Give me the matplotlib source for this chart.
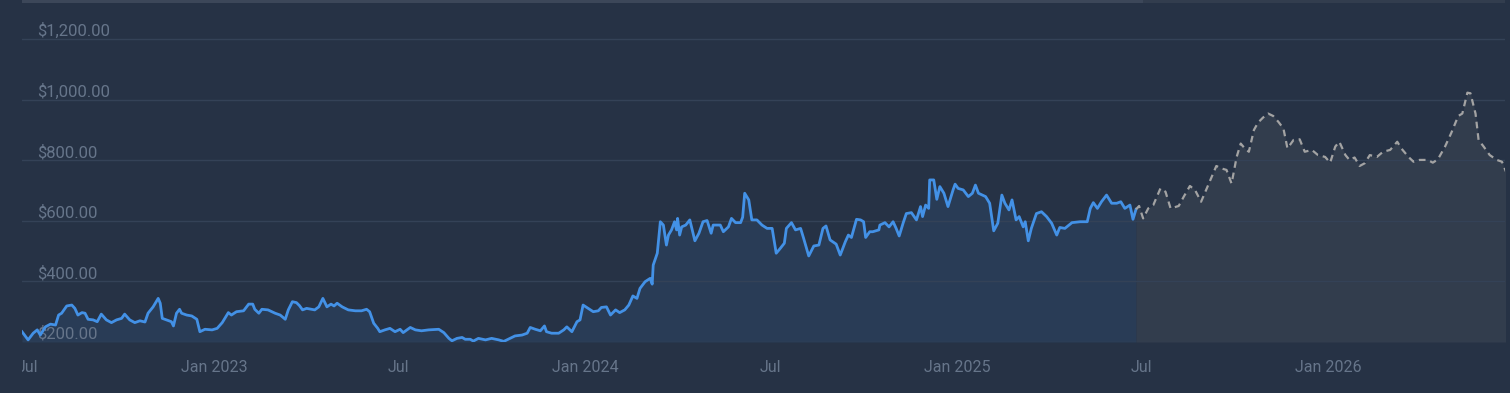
import numpy as np
import pandas as pd
import matplotlib
matplotlib.use("Agg")
import matplotlib.pyplot as plt
from matplotlib.patches import Rectangle
from matplotlib.transforms import Bbox, TransformedBbox

plt.rcParams["font.family"] = ["Roboto", "DejaVu Sans"]

start = pd.Timestamp("2022-07-01")

# price history (days after 2022-07-01)
hist_days = [-5, 1, 6, 10, 13, 18, 23, 28, 31, 34, 39, 44, 47, 50, 54, 57, 60, 65, 69, 73,
             78, 83, 88, 93, 96, 101, 106, 111, 116, 119, 124, 129, 131, 133, 137, 142, 144, 147, 150, 152,
             157, 162, 167, 170, 175, 182, 187, 192, 198, 201, 206, 213, 218, 222, 224, 228, 231, 237, 244, 249,
             254, 257, 261, 265, 268, 271, 275, 283, 287, 291, 295, 299, 302, 305, 310, 316, 323, 329, 334, 337,
             341, 345, 347, 352, 357, 362, 367, 370, 377, 382, 388, 395, 405, 410, 415, 418, 423, 428, 431, 436,
             439, 444, 451, 457, 464, 469, 475, 480, 487, 492, 495, 500, 505, 509, 511, 516, 523, 528, 531, 536,
             541, 544, 547, 552, 557, 562, 565, 570, 574, 579, 583, 588, 592, 596, 600, 603, 608, 613, 615, 616,
             620, 623, 626, 629, 631, 634, 637, 639, 640, 642, 644, 648, 652, 657, 661, 665, 669, 673, 675, 682,
             685, 690, 693, 697, 702, 704, 706, 710, 713, 718, 723, 728, 733, 737, 741, 745, 747, 752, 756, 761,
             764, 769, 774, 779, 783, 786, 790, 796, 800, 805, 808, 811, 816, 820, 823, 825, 829, 832, 838, 839,
             844, 848, 852, 855, 858, 862, 865, 870, 875, 879, 881, 884, 887, 888, 892, 895, 898, 902, 906, 911,
             913, 916, 921, 926, 930, 933, 936, 943, 947, 951, 955, 959, 962, 966, 969, 973, 976, 980, 982, 985,
             988, 993, 998, 1003, 1008, 1013, 1016, 1021, 1028, 1036, 1043, 1046, 1049, 1053, 1057, 1062, 1067, 1072, 1076, 1080,
             1085, 1088, 1091]
hist_price = [234, 207, 229, 240, 223, 250, 259, 256, 289, 295, 319, 322, 311, 289, 297, 295, 275, 273, 267, 292,
              273, 264, 273, 278, 292, 273, 264, 270, 266, 295, 316, 344, 328, 278, 273, 267, 253, 295, 308, 295,
              289, 286, 275, 234, 242, 240, 245, 264, 297, 289, 300, 303, 325, 325, 308, 295, 308, 306, 295, 289,
              275, 306, 333, 330, 320, 306, 311, 306, 316, 344, 316, 325, 319, 328, 316, 306, 303, 303, 308, 300,
              262, 245, 234, 240, 245, 234, 242, 231, 248, 240, 237, 240, 242, 231, 212, 204, 212, 215, 209, 209,
              203, 212, 207, 212, 207, 202, 212, 220, 223, 229, 248, 242, 237, 253, 234, 229, 229, 240, 250, 234,
              267, 273, 322, 311, 300, 303, 314, 316, 289, 306, 297, 306, 322, 352, 344, 377, 399, 410, 391, 454,
              493, 597, 586, 520, 553, 570, 597, 570, 608, 553, 580, 586, 603, 534, 559, 597, 601, 559, 586, 586,
              564, 580, 608, 594, 594, 612, 691, 669, 603, 603, 586, 575, 575, 493, 509, 526, 575, 594, 570, 575,
              542, 484, 517, 520, 575, 583, 537, 523, 487, 531, 553, 545, 605, 603, 597, 545, 564, 564, 570, 586,
              594, 580, 597, 575, 550, 594, 624, 627, 603, 647, 614, 652, 641, 735, 735, 671, 713, 691, 647, 702,
              721, 707, 702, 680, 691, 718, 691, 680, 658, 567, 592, 685, 658, 636, 669, 603, 614, 580, 597, 534,
              575, 624, 630, 614, 592, 553, 578, 575, 594, 597, 597, 641, 660, 641, 663, 685, 658, 658, 663, 641,
              652, 605, 638]

# forecast
fc_days = [1091, 1094, 1098, 1103, 1108, 1115, 1120, 1125, 1133, 1138, 1144, 1149, 1155, 1162, 1170, 1175,
           1180, 1185, 1190, 1194, 1198, 1202, 1207, 1211, 1216, 1221, 1226, 1231, 1236, 1240, 1246, 1252,
           1257, 1264, 1270, 1277, 1282, 1287, 1291, 1297, 1301, 1306, 1311, 1316, 1321, 1328, 1334, 1341,
           1348, 1352, 1359, 1364, 1370, 1378, 1383, 1388, 1395, 1401, 1408, 1412, 1417, 1420, 1425, 1428,
           1433, 1439, 1446, 1451, 1455]
fc_price = [638, 649, 608, 641, 652, 707, 696, 641, 649, 680, 715, 702, 663, 718, 781, 773,
            768, 723, 811, 855, 839, 828, 900, 924, 941, 954, 946, 927, 905, 839, 867, 869,
            828, 834, 817, 811, 792, 845, 861, 817, 801, 809, 781, 790, 817, 811, 828, 834,
            861, 839, 811, 795, 801, 801, 792, 803, 845, 889, 946, 954, 1023, 1021, 954, 867,
            845, 817, 801, 795, 762]

y_ticks = [200, 400, 600, 800, 1000, 1200]
y_labels = ["$200.00", "$400.00", "$600.00", "$800.00", "$1,000.00", "$1,200.00"]
x_ticks = ["2022-07-01", "2023-01-01", "2023-07-01", "2024-01-01",
           "2024-07-01", "2025-01-01", "2025-07-01", "2026-01-01"]
x_labels = ["Jul", "Jan 2023", "Jul", "Jan 2024", "Jul", "Jan 2025", "Jul", "Jan 2026"]

hist_x = start + pd.to_timedelta(hist_days, unit="D")
fc_x = start + pd.to_timedelta(fc_days, unit="D")

bg = "#263245"
txt = "#66758a"

fig = plt.figure(figsize=(15.1, 3.93), dpi=100, facecolor=bg)
ax = fig.add_axes([22 / 1510, 51 / 393, 1483 / 1510, 339 / 393])
ax.set_facecolor(bg)

ax.fill_between(hist_x, hist_price, 200, color="#293c56", lw=0, zorder=0.2)
ax.fill_between(fc_x, fc_price, 200, color="#323d4d", lw=0, zorder=0.2)
ax.plot(hist_x, hist_price, color="#4391e6", lw=2.0, solid_joinstyle="round", zorder=2)
ax.plot(fc_x, fc_price, color="#a3a3a3", lw=1.6, dashes=(3, 2.2), zorder=2)

ax.set_ylim(200, 1319)
ax.set_xlim(start + pd.Timedelta(days=-5), start + pd.Timedelta(days=1454))

ax.set_yticks(y_ticks, y_labels)
ax.set_xticks(pd.to_datetime(x_ticks), x_labels)
ax.grid(axis="y", color="#344257", lw=1)
ax.set_axisbelow(True)
for s in ax.spines.values():
    s.set_visible(False)
ax.tick_params(axis="y", length=0, pad=-11, labelsize=12, labelcolor=txt)
ax.tick_params(axis="x", length=0, pad=13, labelsize=11.5, labelcolor=txt)
for lbl in ax.get_yticklabels():
    lbl.set_ha("left")
    lbl.set_va("bottom")

# navigator strip on top
fig.patches.append(Rectangle((22 / 1510, 390 / 393), 1121 / 1510, 3 / 393,
                             transform=fig.transFigure, color="#3c4759", lw=0))
fig.patches.append(Rectangle((1143 / 1510, 390 / 393), 362 / 1510, 3 / 393,
                             transform=fig.transFigure, color="#323d4e", lw=0))

fig.canvas.draw()
clip = TransformedBbox(Bbox([[22 / 1510, 0], [1, 1]]), fig.transFigure)
for lbl in ax.get_xticklabels():
    lbl.set_clip_box(clip)
    lbl.set_clip_on(True)

fig.savefig("out.png", dpi=100, facecolor=bg)
